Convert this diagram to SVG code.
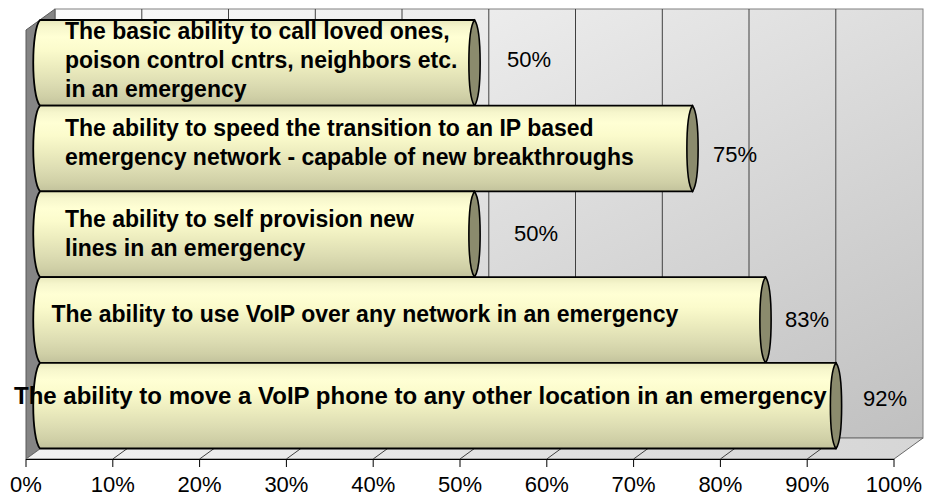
<svg xmlns="http://www.w3.org/2000/svg" width="925" height="498" viewBox="0 0 925 498">
  <defs>
    <linearGradient id="wallFill" x1="0" y1="0" x2="1" y2="1">
      <stop offset="0" stop-color="#fbfbfb"/>
      <stop offset="1" stop-color="#c0c0c0"/>
    </linearGradient>
    <linearGradient id="floorFill" x1="0" y1="0" x2="1" y2="0">
      <stop offset="0" stop-color="#f2f2f2"/>
      <stop offset="1" stop-color="#d6d6d6"/>
    </linearGradient>
    <linearGradient id="barFill" x1="0" y1="0" x2="0" y2="1">
      <stop offset="0" stop-color="#e8e8bc"/>
      <stop offset="0.08" stop-color="#f6f6cc"/>
      <stop offset="0.2" stop-color="#ffffd4"/>
      <stop offset="0.35" stop-color="#fbfbcc"/>
      <stop offset="0.55" stop-color="#ececbe"/>
      <stop offset="0.75" stop-color="#dcdcb2"/>
      <stop offset="0.9" stop-color="#cfcfa6"/>
      <stop offset="1" stop-color="#c2c29c"/>
    </linearGradient>
    <style>
      .grid { stroke: #404040; stroke-width: 1; fill: none; }
      .tick { stroke: #000; stroke-width: 1; fill: none; }
      .body { fill: url(#barFill); stroke: #000; stroke-width: 1.8; stroke-linejoin: round; }
      .cap { fill: #8b8b6d; stroke: #000; stroke-width: 1.6; }
      .lbl { font-family: "Liberation Sans", Arial, sans-serif; font-size: 23px; font-weight: bold; fill: #000; }
      .val { font-family: "Liberation Sans", Arial, sans-serif; font-size: 22px; fill: #000; text-anchor: middle; }
      .axis { font-family: "Liberation Sans", Arial, sans-serif; font-size: 22px; fill: #000; text-anchor: middle; }
    </style>
  </defs>

  <!-- chart walls and floor -->
  <g id="walls">
    <rect x="55" y="9" width="868" height="429" fill="url(#wallFill)" stroke="#808080" stroke-width="1"/>
    <polygon points="26,30 55,9 55,438 26,459" fill="#858585" stroke="#5a5a5a" stroke-width="1"/>
    <polygon points="26,459 894,459 923,438 55,438" fill="url(#floorFill)" stroke="#6a6a6a" stroke-width="1"/>
    <line x1="26" y1="459.5" x2="894" y2="459.5" stroke="#000" stroke-width="1"/>
  </g>

  <!-- vertical gridlines on the back wall and floor -->
  <g id="gridlines">
    <path class="grid" d="M141.8,9V438 M228.5,9V438 M315.3,9V438 M402,9V438 M488.8,9V438 M575.5,9V438 M662.3,9V438 M749,9V438 M835.8,9V438"/>
    <path class="grid" d="M112.8,459L141.8,438 M199.6,459L228.5,438 M286.4,459L315.3,438 M373.2,459L402,438 M460,459L488.8,438 M546.8,459L575.5,438 M633.6,459L662.3,438 M720.4,459L749,438 M807.2,459L835.8,438"/>
  </g>

  <!-- horizontal axis -->
  <g id="axis">
    <path class="tick" d="M26,459V467 M112.8,459V467 M199.6,459V467 M286.4,459V467 M373.2,459V467 M460,459V467 M546.8,459V467 M633.6,459V467 M720.4,459V467 M807.2,459V467 M894,459V467"/>
    <text class="axis" x="26" y="492">0%</text>
    <text class="axis" x="112.8" y="492">10%</text>
    <text class="axis" x="199.6" y="492">20%</text>
    <text class="axis" x="286.4" y="492">30%</text>
    <text class="axis" x="373.2" y="492">40%</text>
    <text class="axis" x="460" y="492">50%</text>
    <text class="axis" x="546.8" y="492">60%</text>
    <text class="axis" x="633.6" y="492">70%</text>
    <text class="axis" x="720.4" y="492">80%</text>
    <text class="axis" x="807.2" y="492">90%</text>
    <text class="axis" x="894" y="492">100%</text>
  </g>

  <!-- bars: cylinder body, end cap, caption and value -->
  <g id="bar-1">
    <path class="body" d="M40,20H474.5V105.7H40C31,95.7 31,30 40,20Z"/>
    <path class="cap" d="M474.5,20C482,30 482,95.7 474.5,105.7C467,95.7 467,30 474.5,20Z"/>
    <text class="lbl" x="65" y="38.5">The basic ability to call loved ones,</text>
    <text class="lbl" x="65" y="68">poison control cntrs, neighbors etc.</text>
    <text class="lbl" x="65" y="97">in an emergency</text>
    <text class="val" x="529" y="67">50%</text>
  </g>

  <g id="bar-2">
    <path class="body" d="M40,105.7H692.5V191.4H40C31,181.4 31,115.7 40,105.7Z"/>
    <path class="cap" d="M692.5,105.7C700,115.7 700,181.4 692.5,191.4C685,181.4 685,115.7 692.5,105.7Z"/>
    <text class="lbl" x="65" y="136">The ability to speed the transition to an IP based</text>
    <text class="lbl" x="65" y="165">emergency network - capable of new breakthroughs</text>
    <text class="val" x="735" y="162">75%</text>
  </g>

  <g id="bar-3">
    <path class="body" d="M40,191.4H474.5V277.1H40C31,267.1 31,201.4 40,191.4Z"/>
    <path class="cap" d="M474.5,191.4C482,201.4 482,267.1 474.5,277.1C467,267.1 467,201.4 474.5,191.4Z"/>
    <text class="lbl" x="65" y="227">The ability to self provision new</text>
    <text class="lbl" x="65" y="256">lines in an emergency</text>
    <text class="val" x="536" y="241">50%</text>
  </g>

  <g id="bar-4">
    <path class="body" d="M40,277.1H765.5V362.8H40C31,352.8 31,287.1 40,277.1Z"/>
    <path class="cap" d="M765.5,277.1C773,287.1 773,352.8 765.5,362.8C758,352.8 758,287.1 765.5,277.1Z"/>
    <text class="lbl" x="51.5" y="321.7">The ability to use VoIP over any network in an emergency</text>
    <text class="val" x="807" y="326.5">83%</text>
  </g>

  <g id="bar-5">
    <path class="body" d="M40,362.8H836V448.5H40C31,438.5 31,372.8 40,362.8Z"/>
    <path class="cap" d="M836,362.8C843.5,372.8 843.5,438.5 836,448.5C828.5,438.5 828.5,372.8 836,362.8Z"/>
    <text class="lbl" x="14" y="404" style="font-size:24px">The ability to move a VoIP phone to any other location in an emergency</text>
    <text class="val" x="885" y="406">92%</text>
  </g>
</svg>
